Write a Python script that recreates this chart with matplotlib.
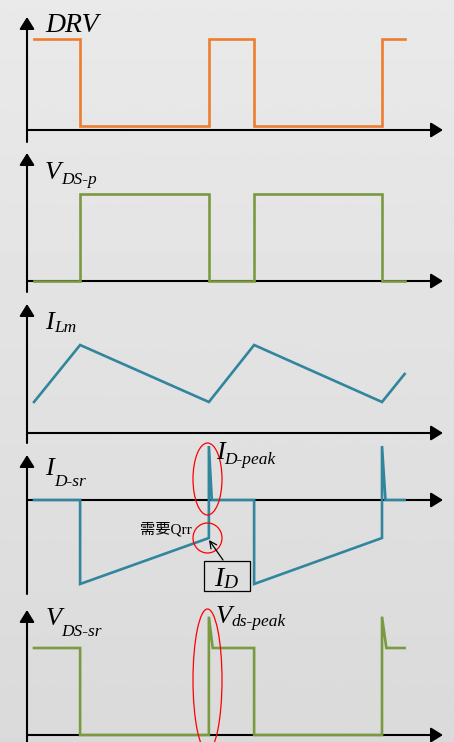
import numpy as np
import matplotlib
matplotlib.use("Agg")
import matplotlib.pyplot as plt
from matplotlib.patches import Ellipse, Rectangle

# ---------------- data (time in arbitrary units) ----------------
t_drv = [0, 2.65, 2.65, 10.05, 10.05, 12.65, 12.65, 20.0, 20.0, 21.3]
drv = [1, 1, 0.045, 0.045, 1, 1, 0.045, 0.045, 1, 1]

t_vdsp = [0, 2.65, 2.65, 10.05, 10.05, 12.65, 12.65, 20.0, 20.0, 21.3]
vdsp = [0, 0, 1, 1, 0, 0, 1, 1, 0, 0]

t_ilm = [0, 2.65, 10.05, 12.65, 20.0, 21.3]
ilm = [0.31, 0.88, 0.31, 0.88, 0.31, 0.59]

t_idsr = [0, 2.65, 2.65, 10.05, 10.05, 10.22, 12.65, 12.65, 20.0, 20.0, 20.2, 21.3]
idsr = [0, 0, -0.84, -0.38, 0.54, 0, 0, -0.84, -0.38, 0.54, 0, 0]

t_vdssr = [0, 2.65, 2.65, 10.05, 10.05, 10.27, 12.65, 12.65, 20.0, 20.0, 20.25, 21.3]
vdssr = [1, 1, 0, 0, 1.36, 1.0, 1.0, 0, 0, 1.36, 1.0, 1.0]

# ---------------- style ----------------
W, H = 454, 742
C_ORANGE = "#ED7D31"
C_GREEN = "#7A9A42"
C_TEAL = "#31859C"
SERIF = "Liberation Serif"
LW = 1.9

fig = plt.figure(figsize=(W / 100, H / 100), dpi=100)

# background gradient
bg = fig.add_axes([0, 0, 1, 1])
grad = np.linspace(0.915, 0.855, 256).reshape(-1, 1)
bg.imshow(grad, aspect="auto", cmap="gray", vmin=0, vmax=1, extent=[0, 1, 0, 1])
bg.axis("off")


def px2t(px):
    return (px - 34) / 17.4


AX_X = px2t(27)
AX_END = px2t(443)


def panel(base, scale, top, bottom, ytip, ybot):
    ax = fig.add_axes([0, 1 - bottom / H, 1, (bottom - top) / H])
    ax.set_xlim(px2t(0), px2t(W))
    ax.set_ylim((base - bottom) / scale, (base - top) / scale)
    ax.axis("off")
    ax.patch.set_alpha(0)
    arrow = dict(arrowstyle="-|>,head_length=0.45,head_width=0.28",
                 mutation_scale=16, lw=1.5, color="black",
                 shrinkA=0, shrinkB=0)
    ax.annotate("", xy=(AX_X, (base - ytip) / scale),
                xytext=(AX_X, (base - ybot) / scale), arrowprops=arrow,
                zorder=1, annotation_clip=False)
    ax.annotate("", xy=(AX_END, 0), xytext=(AX_X, 0), arrowprops=arrow,
                zorder=1, annotation_clip=False)
    return ax


ax1 = panel(130, 91, 0, 148, 17, 142)
ax1.plot(t_drv, drv, color=C_ORANGE, lw=LW, zorder=3, solid_joinstyle="miter")

ax2 = panel(281, 87, 148, 298, 153, 292)
ax2.plot(t_vdsp, vdsp, color=C_GREEN, lw=LW, zorder=3, solid_joinstyle="miter")

ax3 = panel(433, 100, 298, 445, 304, 443)
ax3.plot(t_ilm, ilm, color=C_TEAL, lw=LW, zorder=3, solid_joinstyle="miter")

ax4 = panel(500, 100, 440, 600, 455, 594)
ax4.plot(t_idsr, idsr, color=C_TEAL, lw=LW, zorder=3, solid_joinstyle="miter")

ax5 = panel(735, 87, 600, 742, 610, 745)
ax5.plot(t_vdssr, vdssr, color=C_GREEN, lw=LW, zorder=3, solid_joinstyle="miter")

# ---------------- overlay for text and annotations ----------------
ov = fig.add_axes([0, 0, 1, 1], zorder=10)
ov.set_xlim(0, W)
ov.set_ylim(H, 0)
ov.axis("off")
ov.patch.set_alpha(0)


def label(x, y, main, sub, xs, ys, size=19, subsize=12.5):
    if main:
        ov.text(x, y, main, fontsize=size, family=SERIF, style="italic",
                va="baseline", ha="left")
    if sub:
        ov.text(xs, ys, sub, fontsize=subsize, family=SERIF, style="italic",
                va="baseline", ha="left")


label(45, 32, "DRV", None, 0, 0, size=20)
label(45, 179, "V", "DS-p", 61, 184)
label(45, 329, "I", "Lm", 54, 332)
label(45, 475, "I", "D-sr", 54, 486)
label(216, 459, "I", "D-peak", 224, 464)
label(46, 625, "V", "DS-sr", 61, 636)
label(216, 623, "V", "ds-peak", 231, 626)

ov.text(140, 533, "需要Qrr", fontsize=11, family=[SERIF, "Noto Sans CJK SC"],
        va="baseline", ha="left")

# boxed I_D
ov.add_patch(Rectangle((203.5, 560.5), 46, 30.5, fill=False, ec="black", lw=0.9))
label(214, 586, "I", None, 0, 0, size=20)
label(0, 0, None, "D", 223, 588, subsize=14)

# arrow to ramp end
ov.annotate("", xy=(209, 540), xytext=(223, 560),
            arrowprops=dict(arrowstyle="->,head_length=0.5,head_width=0.25",
                            mutation_scale=10, lw=0.9, color="black",
                            shrinkA=0, shrinkB=0))

# red ellipses
for (cx, cy, w, h) in [(207.5, 479, 29, 72), (207.5, 538, 29, 30), (207.5, 680, 29, 142)]:
    ov.add_patch(Ellipse((cx, cy), w, h, fill=False, ec="#FF0000", lw=0.9))

fig.savefig("out.png", dpi=100)
